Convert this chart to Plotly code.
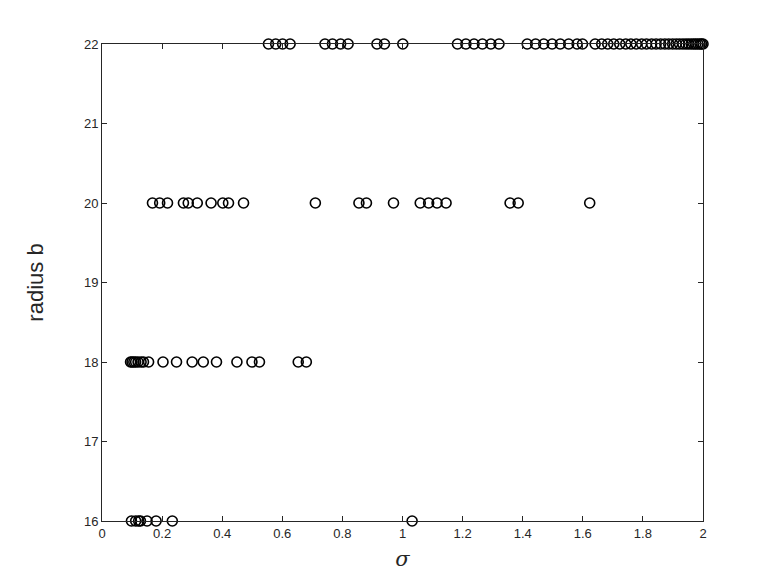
import plotly.graph_objects as go

# sigma values at each radius level
radius_levels = [16, 18, 20, 22]
sigma_r16 = [0.098, 0.112, 0.122, 0.128, 0.150, 0.180, 0.234, 1.032]
sigma_r18 = [0.095, 0.100, 0.106, 0.112, 0.120, 0.130, 0.138, 0.155,
             0.203, 0.248, 0.300, 0.337, 0.381, 0.449, 0.499, 0.524,
             0.653, 0.680]
sigma_r20 = [0.168, 0.192, 0.218, 0.271, 0.287, 0.317, 0.363, 0.402,
             0.421, 0.471, 0.710, 0.855, 0.880, 0.970, 1.059, 1.087,
             1.115, 1.145, 1.358, 1.385, 1.623]
sigma_r22 = [0.554, 0.578, 0.601, 0.626, 0.742, 0.767, 0.794, 0.819,
             0.915, 0.940, 1.001, 1.183, 1.211, 1.238, 1.266, 1.294,
             1.321, 1.415, 1.443, 1.470, 1.498, 1.525, 1.553, 1.581,
             1.599, 1.641, 1.663, 1.683, 1.703, 1.723, 1.743, 1.760,
             1.778, 1.796, 1.812, 1.829, 1.844, 1.859, 1.873, 1.886,
             1.899, 1.911, 1.922, 1.933, 1.943, 1.952, 1.961, 1.969,
             1.976, 1.983, 1.990, 1.995, 2.0]

x_ticks = [0, 0.2, 0.4, 0.6, 0.8, 1, 1.2, 1.4, 1.6, 1.8, 2]
x_tick_labels = ["0", "0.2", "0.4", "0.6", "0.8", "1", "1.2", "1.4", "1.6", "1.8", "2"]
y_ticks = [16, 17, 18, 19, 20, 21, 22]

xs, ys = [], []
for r, s in zip(radius_levels, [sigma_r16, sigma_r18, sigma_r20, sigma_r22]):
    xs += s
    ys += [r] * len(s)

fig = go.Figure()
fig.add_trace(go.Scatter(
    x=xs, y=ys, mode="markers", cliponaxis=False,
    marker=dict(symbol="circle-open", size=10, color="black",
                line=dict(width=1.6, color="black")),
    showlegend=False,
))

axis_common = dict(
    showgrid=False, zeroline=False, showline=True, linecolor="#262626",
    linewidth=0.8, mirror="ticks", ticks="inside", ticklen=5,
    tickcolor="#262626", tickwidth=0.8,
    tickfont=dict(family="Liberation Sans, Arial, sans-serif", size=13, color="#262626"),
)

fig.update_xaxes(range=[0, 2], tickvals=x_ticks, ticktext=x_tick_labels,
                 title=dict(text="<i>σ</i>", font=dict(family="DejaVu Serif, serif", size=21, color="#262626"), standoff=11),
                 **axis_common)
fig.update_yaxes(range=[16, 22], tickvals=y_ticks,
                 title=dict(text="radius b", font=dict(family="Liberation Sans, Arial, sans-serif", size=22, color="#262626"), standoff=34),
                 **axis_common)

fig.update_layout(
    width=778, height=584,
    margin=dict(l=94, r=83, t=36, b=71),
    paper_bgcolor="white", plot_bgcolor="white",
)

fig.write_html("out.html")
